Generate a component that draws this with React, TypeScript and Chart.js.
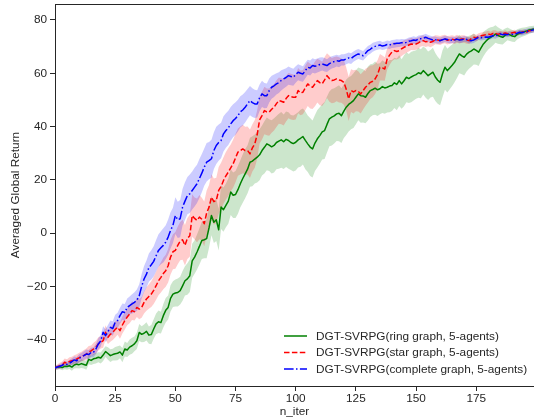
import React, { useEffect, useRef } from "react";
import { Chart, registerables } from "chart.js";

Chart.register(...registerables);

// ---- data ----
const ringMean = [
  -50.6, -50.4, -50.2, -50.5, -50.0, -50.1, -49.8, -50.3, -49.5, -49.2, -49.4, -49.0, -49.3, -49.6, -47.4, -47.8, -47.2, -47.0, -46.6, -46.9,
  -45.8, -44.5, -45.2, -46.0, -45.6, -45.3, -45.1, -44.6, -45.8, -43.5, -43.9, -42.8, -42.3, -41.6, -40.4, -37.3, -38.0, -37.6, -36.9, -38.3,
  -38.1, -36.0, -34.1, -33.3, -33.6, -31.0, -29.0, -27.9, -24.5, -22.9, -22.5, -22.3, -21.6, -19.8, -17.9, -17.2, -16.0, -10.4, -9.0, -7.1,
  -5.0, -2.75, -2.5, -2.1, 2.0, 6.6, 4.1, 5.0, 1.25, 9.75, 8.8, 10.4, 12.0, 15.4, 14.2, 14.5, 16.3, 18.5, 20.5, 22.25,
  24.0, 26.6, 27.0, 27.8, 28.5, 29.4, 31.0, 32.2, 33.5, 33.0, 32.4, 32.9, 34.0, 34.5, 35.0, 34.3, 35.2, 34.75, 34.0, 33.6,
  34.1, 35.0, 35.6, 36.25, 34.8, 33.5, 32.3, 31.6, 33.8, 35.4, 36.6, 38.0, 38.5, 40.8, 42.9, 43.5, 44.0, 44.75, 45.0, 44.1,
  45.8, 47.25, 48.3, 49.0, 49.75, 51.0, 52.25, 51.6, 51.5, 51.0, 52.4, 53.5, 53.9, 54.4, 53.8, 54.2, 55.0, 54.5, 54.75, 55.2,
  55.4, 56.4, 55.8, 57.25, 56.0, 57.2, 58.5, 58.0, 58.6, 59.1, 59.5, 60.2, 59.8, 61.0, 60.1, 59.1, 59.8, 60.4, 58.6, 57.4,
  56.6, 59.8, 62.25, 61.0, 62.0, 63.0, 64.1, 65.8, 67.25, 66.5, 66.0, 67.2, 67.9, 68.4, 69.1, 68.6, 67.9, 69.5, 71.0, 72.0,
  72.9, 73.5, 74.0, 74.75, 74.2, 73.8, 73.5, 74.2, 74.75, 74.4, 74.0, 73.75, 74.6, 75.0, 75.4, 75.6, 75.9, 76.25, 76.4, 76.6,
];

const starMean = [
  -50.6, -50.2, -49.8, -49.5, -48.5, -48.9, -48.2, -47.9, -47.6, -47.25, -46.8, -46.3, -45.9, -45.4, -44.6, -44.2, -43.5, -42.8, -41.6, -41.0,
  -40.4, -37.25, -39.1, -38.0, -37.25, -36.2, -35.4, -36.6, -34.5, -32.9, -31.5, -30.4, -29.1, -29.5, -27.9, -28.5, -27.9, -26.0, -24.75, -23.8,
  -22.9, -21.5, -19.75, -17.9, -16.6, -15.2, -14.1, -12.25, -9.0, -7.0, -6.5, -4.6, -3.0, -2.5, -4.6, -2.0, -1.0, 6.6, 5.5, 4.75,
  6.0, 5.2, 3.5, 7.5, 9.75, 13.5, 11.8, 12.25, 16.0, 17.5, 19.75, 21.5, 22.9, 24.5, 26.0, 28.2, 30.4, 31.0, 31.6, 31.0,
  31.0, 29.75, 32.0, 33.5, 37.0, 42.5, 44.1, 46.0, 45.5, 45.4, 46.5, 47.25, 48.6, 49.75, 49.5, 49.1, 50.5, 51.6, 51.2, 51.0,
  51.0, 53.5, 52.6, 52.9, 54.5, 56.0, 55.2, 54.75, 56.0, 57.25, 56.5, 56.0, 57.5, 59.1, 58.0, 57.25, 57.5, 57.9, 57.5, 57.25,
  56.6, 54.0, 50.4, 53.5, 53.0, 53.5, 53.2, 52.25, 53.5, 54.75, 55.6, 56.6, 57.0, 57.9, 59.5, 62.25, 62.0, 61.6, 65.4, 66.8,
  68.0, 68.5, 68.2, 68.5, 69.2, 69.75, 70.2, 70.6, 71.0, 70.8, 71.0, 71.4, 72.0, 72.25, 71.8, 72.0, 71.6, 72.0, 72.6, 72.5,
  72.3, 72.7, 72.9, 72.4, 72.6, 72.8, 72.5, 73.0, 72.6, 72.9, 72.9, 72.5, 72.25, 73.0, 73.5, 73.2, 73.8, 74.1, 74.3, 74.5,
  74.75, 74.5, 75.0, 75.0, 74.6, 74.9, 74.75, 75.1, 74.8, 75.0, 75.2, 75.4, 75.1, 75.3, 75.4, 75.6, 75.5, 76.0, 76.1, 76.2,
];

const completeMean = [
  -50.6, -50.3, -50.0, -49.6, -49.1, -49.3, -48.8, -48.3, -47.6, -47.9, -47.0, -46.5, -46.0, -45.4, -45.6, -44.8, -44.75, -43.5, -41.6, -40.5,
  -37.25, -38.5, -37.0, -35.4, -35.8, -33.5, -32.8, -31.0, -29.5, -29.8, -27.9, -27.2, -26.6, -26.0, -25.2, -23.5, -20.0, -17.25, -15.4, -13.0,
  -11.9, -10.6, -8.5, -6.5, -5.5, -4.6, -3.4, -1.5, 1.0, 2.9, 6.6, 5.0, 5.4, 9.75, 12.0, 14.1, 14.75, 16.0, 17.25, 18.5,
  20.5, 22.5, 24.75, 26.6, 27.2, 27.9, 31.0, 32.9, 34.0, 34.75, 37.25, 38.5, 39.5, 41.0, 42.2, 43.0, 44.1, 45.5, 46.2, 47.25,
  48.5, 49.75, 49.0, 48.5, 48.5, 50.8, 52.25, 51.6, 51.6, 53.5, 54.75, 55.3, 56.0, 56.5, 57.3, 57.9, 58.4, 59.1, 58.8, 58.5,
  59.5, 60.4, 60.0, 59.75, 61.0, 62.25, 62.0, 62.9, 62.6, 62.9, 63.3, 63.5, 63.2, 62.9, 63.6, 64.1, 64.4, 64.75, 64.5, 65.0,
  65.0, 65.4, 65.75, 65.5, 66.25, 66.8, 67.25, 66.9, 66.6, 67.5, 68.5, 69.0, 69.75, 70.1, 70.4, 70.6, 70.2, 70.4, 70.8, 70.6,
  71.0, 71.1, 71.3, 71.25, 71.5, 71.4, 71.6, 72.0, 72.2, 72.5, 72.3, 72.9, 73.0, 73.2, 73.5, 73.1, 72.8, 72.5, 72.6, 72.3,
  72.25, 72.6, 72.9, 72.7, 72.4, 72.5, 72.5, 72.8, 72.5, 72.6, 72.9, 72.7, 72.3, 72.25, 72.5, 73.0, 73.5, 73.3, 73.5, 73.6,
  73.5, 73.8, 74.1, 74.0, 74.4, 74.75, 74.5, 74.6, 74.5, 74.75, 74.6, 74.75, 75.0, 75.4, 75.2, 75.5, 75.7, 76.0, 76.1, 76.3,
];

// half-width of the shaded band around each mean
const ringSpread = [
  0.6, 0.8, 0.9, 1.0, 1.1, 1.2, 1.2, 1.4, 1.3, 1.5, 1.4, 1.6, 1.5, 1.7, 1.8, 1.7, 1.9, 2.0, 1.9, 2.1,
  2.2, 2.0, 2.3, 2.4, 2.2, 2.5, 2.6, 2.4, 2.7, 2.8, 2.6, 2.9, 3.0, 2.8, 3.1, 3.2, 3.0, 3.3, 3.4, 3.2,
  3.6, 3.7, 3.9, 4.2, 4.1, 4.4, 4.6, 4.5, 4.9, 4.8, 5.1, 5.3, 5.2, 5.6, 5.5, 5.9, 6.1, 6.4, 6.3, 6.6,
  6.8, 7.0, 6.9, 7.3, 7.5, 7.4, 7.8, 8.0, 7.8, 8.2, 8.3, 8.2, 8.5, 8.6, 8.5, 8.8, 9.0, 8.8, 9.1, 9.2,
  9.0, 9.2, 9.4, 9.2, 9.5, 9.6, 9.4, 9.8, 9.9, 9.7, 10.0, 10.2, 10.0, 10.3, 10.5, 10.2, 10.4, 10.6, 10.3, 10.5,
  10.6, 10.4, 10.7, 10.5, 10.8, 10.6, 10.9, 10.7, 10.5, 10.8, 10.6, 10.4, 10.7, 10.5, 10.3, 10.6, 10.4, 10.2, 10.5, 10.3,
  10.1, 10.4, 10.2, 10.0, 10.3, 10.1, 9.9, 10.2, 10.0, 9.8, 10.1, 9.9, 9.7, 10.0, 9.8, 9.6, 9.9, 9.7, 9.5, 9.8,
  9.6, 9.4, 9.7, 9.5, 9.3, 9.6, 9.4, 9.2, 9.5, 9.3, 9.1, 9.4, 9.2, 9.0, 9.3, 9.1, 8.9, 9.2, 9.0, 8.8,
  8.6, 8.8, 8.4, 8.2, 8.0, 7.8, 7.5, 7.6, 7.2, 6.9, 6.8, 6.5, 6.2, 6.0, 5.8, 5.4, 5.2, 4.8, 4.6, 4.2,
  4.0, 3.8, 3.5, 3.3, 3.1, 2.9, 2.7, 2.6, 2.4, 2.3, 2.2, 2.0, 1.9, 1.8, 1.7, 1.6, 1.5, 1.4, 1.3, 1.2,
];

const starSpread = [
  0.8, 1.0, 1.1, 1.3, 1.4, 1.5, 1.6, 1.5, 1.7, 1.8, 1.9, 1.8, 2.0, 2.1, 2.2, 2.0, 2.3, 2.4, 2.5, 2.3,
  2.6, 2.7, 2.5, 2.8, 2.9, 3.0, 2.8, 3.1, 3.2, 3.3, 3.1, 3.4, 3.5, 3.3, 3.6, 3.8, 3.9, 4.2, 4.4, 4.6,
  4.8, 5.1, 5.3, 5.4, 5.7, 5.9, 6.0, 6.3, 6.5, 6.6, 6.9, 7.1, 7.2, 7.5, 7.6, 7.7, 7.9, 8.0, 7.9, 8.2,
  8.3, 8.1, 8.4, 8.5, 8.3, 8.6, 8.7, 8.5, 8.8, 8.9, 8.7, 8.9, 9.0, 8.8, 9.0, 9.1, 8.9, 9.0, 9.1, 8.9,
  9.0, 9.1, 8.9, 9.0, 9.1, 8.9, 9.0, 8.9, 8.8, 8.9, 8.8, 8.7, 8.8, 8.7, 8.6, 8.7, 8.6, 8.5, 8.6, 8.5,
  8.4, 8.5, 8.4, 8.3, 8.4, 8.3, 8.4, 8.2, 8.4, 8.2, 8.5, 8.3, 8.6, 8.4, 8.7, 8.5, 8.6, 8.4, 8.5, 8.3,
  8.4, 8.2, 8.3, 8.0, 8.1, 7.8, 7.6, 7.4, 7.1, 6.9, 6.6, 6.3, 6.0, 5.7, 5.4, 5.0, 4.7, 4.4, 4.0, 3.7,
  3.5, 3.2, 3.0, 2.9, 2.7, 2.6, 2.5, 2.4, 2.3, 2.2, 2.2, 2.1, 2.0, 2.0, 1.9, 1.9, 1.8, 1.8, 1.7, 1.7,
  1.7, 1.6, 1.6, 1.6, 1.5, 1.5, 1.5, 1.5, 1.4, 1.4, 1.4, 1.4, 1.3, 1.3, 1.3, 1.3, 1.2, 1.2, 1.2, 1.2,
  1.2, 1.1, 1.1, 1.1, 1.1, 1.0, 1.0, 1.0, 1.0, 1.0, 0.9, 0.9, 0.9, 0.9, 0.9, 0.8, 0.8, 0.8, 0.8, 0.8,
];

const completeSpread = [
  0.7, 0.8, 0.9, 1.0, 1.1, 1.1, 1.2, 1.3, 1.3, 1.4, 1.5, 1.5, 1.6, 1.7, 1.7, 1.8, 1.9, 2.0, 2.1, 2.2,
  2.3, 2.4, 2.5, 2.6, 2.7, 2.8, 2.9, 3.0, 3.1, 3.2, 3.3, 3.4, 3.6, 3.8, 4.0, 4.3, 4.6, 4.9, 5.1, 5.3,
  5.5, 5.7, 5.9, 6.1, 6.2, 6.4, 6.3, 6.6, 6.8, 6.6, 6.9, 6.8, 7.0, 6.9, 7.1, 7.0, 7.2, 7.1, 7.3, 7.2,
  7.3, 7.2, 7.0, 7.2, 7.0, 7.1, 6.9, 7.0, 6.8, 6.7, 6.6, 6.5, 6.4, 6.3, 6.2, 6.1, 6.0, 5.9, 5.8, 5.7,
  5.6, 5.5, 5.4, 5.3, 5.1, 5.0, 4.9, 4.7, 4.6, 4.5, 4.3, 4.2, 4.0, 3.9, 3.8, 3.6, 3.5, 3.4, 3.3, 3.2,
  3.1, 3.0, 3.0, 2.9, 2.9, 2.8, 2.8, 2.7, 2.7, 2.6, 2.6, 2.5, 2.5, 2.4, 2.4, 2.3, 2.3, 2.2, 2.2, 2.1,
  2.1, 2.0, 2.0, 2.0, 1.9, 1.9, 1.9, 1.8, 1.8, 1.8, 1.7, 1.7, 1.7, 1.6, 1.6, 1.6, 1.5, 1.5, 1.5, 1.5,
  1.5, 1.5, 1.5, 1.4, 1.4, 1.4, 1.4, 1.4, 1.4, 1.4, 1.3, 1.3, 1.3, 1.3, 1.3, 1.3, 1.3, 1.3, 1.2, 1.2,
  1.2, 1.2, 1.2, 1.2, 1.2, 1.2, 1.1, 1.1, 1.1, 1.1, 1.1, 1.1, 1.1, 1.1, 1.1, 1.0, 1.0, 1.0, 1.0, 1.0,
  1.0, 1.0, 1.0, 1.0, 1.0, 1.0, 1.0, 1.0, 1.0, 1.0, 1.0, 1.0, 1.0, 1.0, 1.0, 1.0, 1.0, 1.0, 1.0, 1.0,
];

const seriesLabels = [
  "DGT-SVRPG(ring graph, 5-agents)",
  "DGT-SVRPG(star graph, 5-agents)",
  "DGT-SVRPG(complete graph, 5-agents)",
];
const xTicks = [0, 25, 50, 75, 100, 125, 150, 175];
const yTicks = [-40, -20, 0, 20, 40, 60, 80];
const xTitle = "n_iter";
const yTitle = "Averaged Global Return";

const FONT = "'Liberation Sans', Arial, sans-serif";
const INK = "#262626";
const FS = 11.8;

const LINE_STYLES = [
  { color: "#008000", fill: "rgba(0,128,0,0.2)", dash: [] as number[] },
  { color: "#ff0000", fill: "rgba(255,0,0,0.2)", dash: [5.5, 2.4] },
  { color: "#0000ff", fill: "rgba(0,0,255,0.2)", dash: [9.6, 2.4, 1.5, 2.4] },
];

const toPts = (arr: number[]) => arr.map((v, i) => ({ x: i, y: v }));

const frameAndLegend = {
  id: "frameAndLegend",
  afterDraw(chart: any) {
    const { ctx, chartArea } = chart;
    ctx.save();
    // top spine
    ctx.strokeStyle = INK;
    ctx.lineWidth = 1;
    ctx.beginPath();
    ctx.moveTo(chartArea.left, chartArea.top + 0.5);
    ctx.lineTo(chartArea.right, chartArea.top + 0.5);
    ctx.stroke();

    // legend (lower right, inside the axes)
    const x0 = 284;
    const x1 = 307;
    const tx = 316;
    const rows = [336, 352.5, 369];
    ctx.font = `${FS}px ${FONT}`;
    ctx.textBaseline = "middle";
    ctx.textAlign = "left";
    seriesLabels.forEach((lab, k) => {
      const st = LINE_STYLES[k];
      ctx.strokeStyle = st.color;
      ctx.lineWidth = 1.5;
      ctx.setLineDash(st.dash);
      ctx.beginPath();
      ctx.moveTo(x0, rows[k]);
      ctx.lineTo(x1, rows[k]);
      ctx.stroke();
      ctx.setLineDash([]);
      ctx.fillStyle = INK;
      ctx.fillText(lab, tx, rows[k] + 0.5);
    });
    ctx.restore();
  },
};

export default function App() {
  const ref = useRef<HTMLCanvasElement | null>(null);

  useEffect(() => {
    document.body.style.margin = "0";
    const canvas = ref.current;
    if (!canvas) return;

    const means = [ringMean, starMean, completeMean];
    const spreads = [ringSpread, starSpread, completeSpread];

    const lineSets: any[] = [];
    const bandSets: any[] = [];
    [2, 1, 0].forEach((k) => {
      lineSets.push({
        label: seriesLabels[k],
        data: toPts(means[k]),
        borderColor: LINE_STYLES[k].color,
        borderWidth: 1.5,
        borderDash: LINE_STYLES[k].dash,
        borderJoinStyle: "round",
        pointRadius: 0,
        fill: false,
        tension: 0,
      });
    });
    let idx = 3;
    [2, 1, 0].forEach((k) => {
      const m = means[k];
      const s = spreads[k];
      bandSets.push({
        label: "lower" + k,
        data: toPts(m.map((v, i) => v - s[i])),
        borderWidth: 0,
        borderColor: "rgba(0,0,0,0)",
        pointRadius: 0,
        fill: false,
      });
      bandSets.push({
        label: "upper" + k,
        data: toPts(m.map((v, i) => v + s[i])),
        borderWidth: 0,
        borderColor: "rgba(0,0,0,0)",
        backgroundColor: LINE_STYLES[k].fill,
        pointRadius: 0,
        fill: { target: idx },
      });
      idx += 2;
    });

    const chart = new Chart(canvas, {
      type: "line",
      data: { datasets: [...lineSets, ...bandSets] },
      options: {
        animation: false,
        responsive: false,
        devicePixelRatio: 1,
        layout: { padding: { top: 4, right: 0, left: 0, bottom: 0 } },
        plugins: {
          legend: { display: false },
          tooltip: { enabled: false },
        },
        scales: {
          x: {
            type: "linear",
            min: 0,
            max: 199,
            afterFit: (s: any) => {
              s.height = 33;
              s.paddingLeft = 0;
              s.paddingRight = 0;
            },
            afterBuildTicks: (s: any) => {
              s.ticks = xTicks.map((v) => ({ value: v }));
            },
            grid: {
              display: true,
              drawOnChartArea: false,
              drawTicks: true,
              tickLength: 5,
              color: INK,
              lineWidth: 1,
            },
            border: { display: true, color: INK, width: 1 },
            ticks: {
              color: INK,
              font: { family: FONT, size: FS },
              padding: 1,
              maxRotation: 0,
              autoSkip: false,
            },
            title: {
              display: true,
              text: xTitle,
              color: INK,
              font: { family: FONT, size: FS },
              padding: { top: 1, bottom: 0 },
            },
          },
          y: {
            type: "linear",
            min: -57.4,
            max: 86.0,
            afterFit: (s: any) => {
              s.width = 55;
              s.paddingTop = 0;
              s.paddingBottom = 0;
            },
            afterBuildTicks: (s: any) => {
              s.ticks = yTicks.map((v) => ({ value: v }));
            },
            grid: {
              display: true,
              drawOnChartArea: false,
              drawTicks: true,
              tickLength: 5,
              color: INK,
              lineWidth: 1,
            },
            border: { display: true, color: INK, width: 1 },
            ticks: {
              color: INK,
              font: { family: FONT, size: FS },
              padding: 3,
              callback: (v: any) => (v < 0 ? "\u2212" + Math.abs(v) : String(v)),
            },
            title: {
              display: true,
              text: yTitle,
              color: INK,
              font: { family: FONT, size: FS },
              padding: { top: 9, bottom: 0 },
            },
          },
        },
      },
      plugins: [frameAndLegend],
    });

    return () => chart.destroy();
  }, []);

  return (
    <div style={{ position: "absolute", left: 0, top: 0, width: 534, height: 419, background: "#fff" }}>
      <canvas ref={ref} width={534} height={419} style={{ width: 534, height: 419, display: "block" }} />
    </div>
  );
}
